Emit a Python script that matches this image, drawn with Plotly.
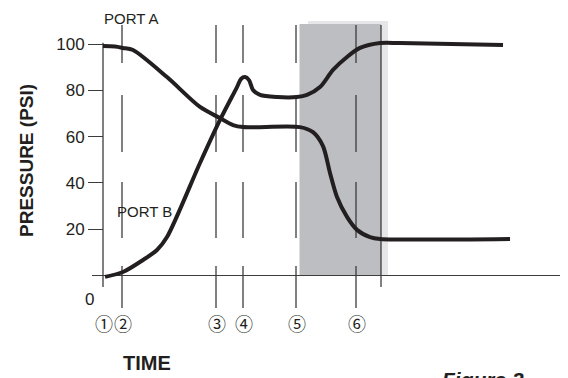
import plotly.graph_objects as go

# ---- data (time in arbitrary units, pressure in PSI) ----
port_a_t = [0, 12, 20, 30, 64, 97, 117, 130, 140, 197, 210, 220, 227, 234, 244, 254, 267, 277, 407]
port_a_p = [99.1, 98.9, 98.3, 97.4, 85.7, 72.8, 68.0, 65.0, 64.1, 64.1, 61.9, 55.9, 44.3, 33.9, 25.3, 19.7, 16.6, 15.8, 15.8]

port_b_t = [2, 20, 40, 54, 64, 97, 117, 134, 138, 142, 146, 150, 157, 174, 194, 204, 217, 230, 244, 257, 277, 297, 400]
port_b_p = [-0.6, 1.5, 6.7, 11.0, 16.6, 48.6, 67.2, 81.4, 84.9, 85.7, 84.4, 80.1, 78.0, 77.1, 77.1, 78.0, 81.4, 88.8, 94.4, 98.3, 100.4, 100.4, 99.6]

event_times = [0, 19, 113, 140, 193, 253]
event_labels = ["①", "②", "③", "④", "⑤", "⑥"]
end_time = 278
shade_start, shade_end = 196, 278

y_ticks = [20, 40, 60, 80, 100]

# ---- layout geometry (page has an 8px body margin) ----
OFF = 8
W, H = 568 - OFF, 378 - OFF
L, R, T, B = 92 - OFF, 1, 10 - OFF, 40
PW, PH = W - L - R, H - T - B
X0 = 103 - OFF           # pixel of time zero (figure coords)
PX_PER_T = 1.0
Y0 = 275.5 - OFF         # pixel of pressure zero (figure coords)
PX_PER_P = 2.315

x_range = [(L - X0) / PX_PER_T, (W - R - X0) / PX_PER_T]
y_range = [(Y0 - (H - B)) / PX_PER_P, (Y0 - T) / PX_PER_P]

def xp(px):  # page pixel -> paper fraction
    return (px - OFF - L) / PW

def yp(py):
    return (H - B - (py - OFF)) / PH

INK = "#231f20"
AX = "#3c3c3c"

fig = go.Figure()
fig.add_trace(go.Scatter(x=port_a_t, y=port_a_p, mode="lines",
                         line=dict(color=INK, width=4, shape="spline", smoothing=0.8),
                         hoverinfo="skip", showlegend=False))
fig.add_trace(go.Scatter(x=port_b_t, y=port_b_p, mode="lines",
                         line=dict(color=INK, width=4, shape="spline", smoothing=0.8),
                         hoverinfo="skip", showlegend=False))

shapes = []
# shaded region (light offset + dark)
shapes.append(dict(type="rect", xref="x", yref="y", x0=shade_start + 9, x1=shade_end + 7,
                   y0=0, y1=109.9, fillcolor="#e6e6e8", line=dict(width=0), layer="below"))
shapes.append(dict(type="rect", xref="x", yref="y", x0=shade_start + 0.5, x1=shade_end,
                   y0=0, y1=108.6, fillcolor="#bdbec2", line=dict(width=0), layer="below"))

# broken vertical event lines
dash_segments = [(108.2, 91.8), (78.0, 53.3), (40.4, 16.2), (4.1, -14.0)]
for t in event_times[1:]:
    for a, b in dash_segments:
        shapes.append(dict(type="line", xref="x", yref="y", x0=t, x1=t, y0=a, y1=b,
                           line=dict(color=AX, width=1.3), layer="below"))
# solid line at end of shaded region
shapes.append(dict(type="line", xref="x", yref="y", x0=end_time, x1=end_time, y0=108.2, y1=-5,
                   line=dict(color=AX, width=1.3), layer="below"))
# y axis line
shapes.append(dict(type="line", xref="x", yref="y", x0=0, x1=0, y0=-5, y1=100.5,
                   line=dict(color=AX, width=1.3), layer="below"))

annotations = []
for t, lab in zip(event_times, event_labels):
    annotations.append(dict(x=t + 1, y=(Y0 - (323 - OFF)) / PX_PER_P, xref="x", yref="y", text=lab,
                            xanchor="center", yanchor="middle",
                            showarrow=False, font=dict(family="Noto Sans CJK JP", size=18, color=INK)))

def label(px, py, text, size, **kw):
    d = dict(x=xp(px), y=yp(py), xref="paper", yref="paper", text=text, showarrow=False,
             xanchor="center", yanchor="middle",
             font=dict(family="Liberation Sans", size=size, color=INK))
    d.update(kw)
    return d

annotations += [
    label(131, 8, "PORT A", 15, yanchor="top"),
    label(144, 211, "PORT B", 15),
    label(89, 299, "0", 17),
    label(146.5, 363.5, "<b>TIME</b>", 20),
    label(26, 161, "<b>PRESSURE (PSI)</b>", 19, textangle=-90),
    label(440, 366, "<b><i>Figure 2</i></b>", 21, xanchor="left", yanchor="top"),
]

fig.update_layout(
    width=W, height=H,
    margin=dict(l=L, r=R, t=T, b=B, pad=0),
    paper_bgcolor="white", plot_bgcolor="white",
    xaxis=dict(range=x_range, showgrid=False, zeroline=False, showline=False,
               showticklabels=False, ticks="", fixedrange=True),
    yaxis=dict(range=y_range, showgrid=False, zeroline=True, zerolinecolor=AX, zerolinewidth=1.3,
               showline=False, anchor="free", position=(X0 - L) / PW,
               tickvals=y_ticks, ticks="outside", ticklen=15, tickwidth=1.3, tickcolor=AX,
               tickfont=dict(family="Liberation Sans", size=17, color=INK), fixedrange=True),
    shapes=shapes, annotations=annotations,
)

fig.write_html("out.html")
